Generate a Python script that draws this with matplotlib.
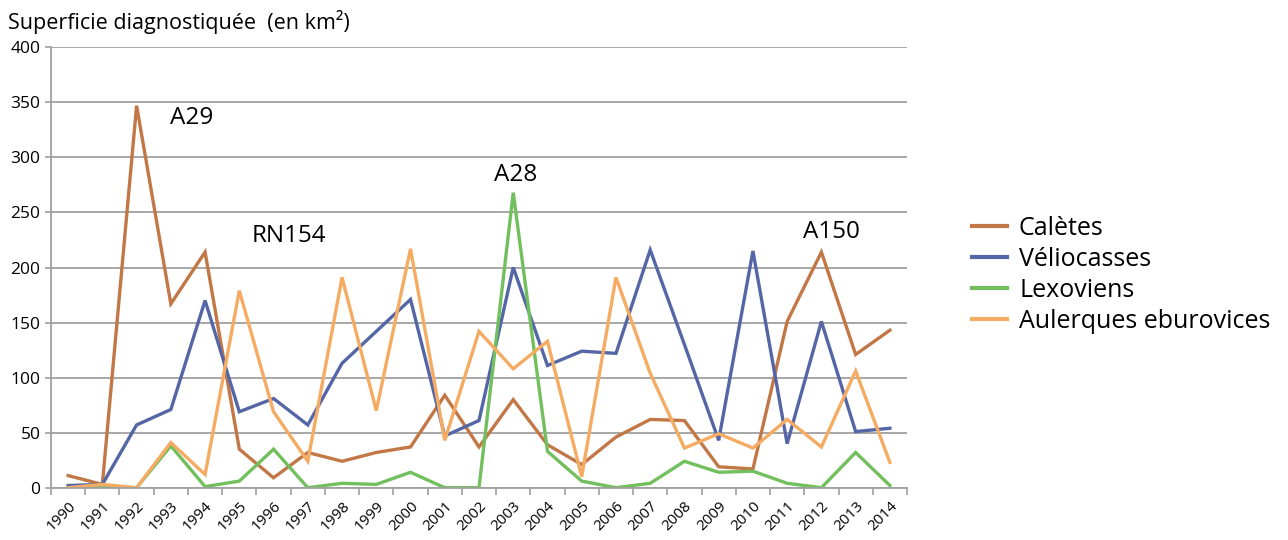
import matplotlib
matplotlib.use("Agg")
import matplotlib.pyplot as plt
import numpy as np

years = [str(y) for y in range(1990, 2015)]
caletes = [11, 3, 347, 167, 214, 35, 9, 32, 24, 32, 37, 84, 37, 80, 39, 21, 46, 62, 61, 19, 17, 151, 214, 121, 143]
veliocasses = [2, 3, 57, 71, 170, 69, 81, 57, 113, 142, 171, 47, 61, 200, 111, 124, 122, 216, 130, 43, 215, 40, 151, 51, 54]
lexoviens = [0, 0, 0, 38, 1, 6, 35, 0, 4, 3, 14, 0, 0, 268, 33, 6, 0, 4, 24, 14, 15, 4, 0, 32, 2]
aulerques = [0, 3, 0, 41, 12, 179, 69, 24, 191, 70, 217, 43, 142, 108, 133, 10, 191, 104, 36, 49, 36, 62, 37, 106, 23]

series_names = ["Calètes", "Véliocasses", "Lexoviens", "Aulerques eburovices"]
colors = ["#c27746", "#5566a6", "#72bf5e", "#f5ab62"]

annotations = ["A29", "RN154", "A28", "A150"]
annot_x = [3.62, 6.45, 13.08, 22.3]
annot_y = [336, 229, 284, 232]

plt.rcParams['font.family'] = ['Open Sans', 'DejaVu Sans']

fig = plt.figure(figsize=(12.88, 5.4), dpi=100)
ax = fig.add_axes([51/1288, 1-487.7/540, (907-51)/1288, (487.7-47.3)/540])

x = np.arange(len(years))
for vals, name, c in zip([caletes, veliocasses, lexoviens, aulerques], series_names, colors):
    ax.plot(x, vals, color=c, lw=2.4, label=name, solid_joinstyle='miter')

ax.set_xlim(-0.5, len(years) - 0.5)
ax.set_ylim(0, 400)
ax.set_yticks(range(0, 401, 50))
ax.yaxis.grid(True, color="#a0a0a0", lw=1.3)
ax.set_axisbelow(True)
ax.set_xticks(x)
ax.set_xticklabels(years, rotation=45, ha='right', rotation_mode='anchor', fontsize=11)
ax.set_xticks(np.arange(-0.5, len(years)), minor=True)
ax.tick_params(axis='x', which='major', length=0, pad=8)
ax.tick_params(axis='x', which='minor', length=5, color="#a0a0a0", width=1.2)
ax.tick_params(axis='y', length=4, color="#a0a0a0", width=1.2, labelsize=12.5)
for s in ['top', 'right']:
    ax.spines[s].set_visible(False)
for s in ['left', 'bottom']:
    ax.spines[s].set_color("#a0a0a0")
    ax.spines[s].set_linewidth(1.3)

for t, xa, ya in zip(annotations, annot_x, annot_y):
    ax.text(xa, ya, t, fontsize=17.5, ha='center', va='center')

fig.text(8/1288, 1-22/540, "Superficie diagnostiquée  (en km²)", fontsize=15.5, ha='left', va='center')

leg = fig.legend(loc='center left', bbox_to_anchor=(949/1288, 1-275/540), frameon=False,
                 fontsize=18, handlelength=1.4, handletextpad=0.5, labelspacing=0.24)
for line in leg.get_lines():
    line.set_linewidth(3)

fig.savefig("out.png", dpi=100)
